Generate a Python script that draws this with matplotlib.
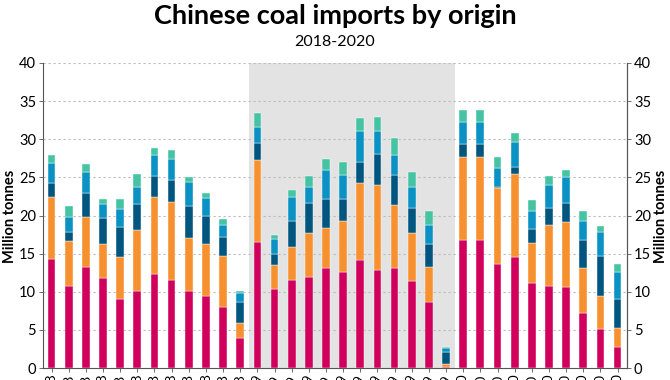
import matplotlib
matplotlib.use("Agg")
import matplotlib.pyplot as plt
import numpy as np

plt.rcParams["font.family"] = ["Lato", "DejaVu Sans"]

MONTHS = ["Jan", "Feb", "Mar", "Apr", "May", "Jun",
          "Jul", "Aug", "Sep", "Oct", "Nov", "Dec"]
LABELS = ([f"{m}-18" for m in MONTHS] + [f"{m}-19" for m in MONTHS]
          + [f"{m}-20" for m in MONTHS[:10]])

# million tonnes, stacked bottom to top
pink = [14.3, 10.8, 13.3, 11.8, 9.0, 10.15, 12.3, 11.6, 10.1, 9.45, 8.0, 3.9,
        16.5, 10.3, 11.6, 12.0, 13.1, 12.6, 14.1, 12.9, 13.15, 11.4, 8.7, 0.1,
        16.8, 16.8, 13.6, 14.6, 11.1, 10.75, 10.6, 7.2, 5.1, 2.75]
orange = [8.1, 5.9, 6.5, 4.5, 5.6, 7.9, 10.1, 10.2, 7.0, 6.85, 6.7, 2.0,
          10.8, 3.2, 4.3, 5.75, 5.3, 6.7, 10.2, 11.1, 8.25, 6.35, 4.5, 0.4,
          10.9, 10.9, 9.95, 10.9, 5.3, 7.95, 8.6, 5.95, 4.4, 2.55]
dark_blue = [1.9, 1.2, 3.15, 3.4, 3.9, 3.45, 2.8, 2.8, 4.2, 3.7, 2.5, 2.8,
             2.2, 1.5, 3.4, 3.85, 3.7, 2.8, 2.7, 4.1, 3.9, 3.25, 3.0, 1.65,
             1.7, 1.7, 0.15, 0.9, 1.8, 2.3, 2.5, 3.65, 5.2, 3.75]
light_blue = [2.6, 1.9, 2.75, 1.8, 2.4, 2.2, 2.7, 2.8, 3.05, 2.25, 1.5, 1.2,
              2.15, 1.9, 3.1, 2.2, 3.9, 3.2, 4.1, 3.0, 2.6, 2.7, 2.55, 0.5,
              2.8, 2.8, 2.5, 3.3, 2.4, 2.95, 3.3, 2.5, 3.1, 3.55]
teal = [1.0, 1.4, 1.0, 0.7, 1.3, 1.7, 1.0, 1.2, 0.75, 0.75, 0.9, 0.25,
        1.75, 0.6, 1.0, 1.4, 1.4, 1.7, 1.7, 1.8, 2.3, 2.0, 1.85, 0.1,
        1.7, 1.7, 1.5, 1.1, 1.4, 1.25, 1.0, 1.3, 0.8, 1.1]

series = [pink, orange, dark_blue, light_blue, teal]
colors = ["#d0005c", "#f7902f", "#00567f", "#0a92c4", "#45c3a3"]

fig = plt.figure(figsize=(6.7, 3.8), dpi=100)
ax = fig.add_axes([43 / 670, 12 / 380, 584 / 670, 305 / 380])

x = np.arange(len(LABELS))
ax.axvspan(11.5, 23.5, color="#e3e3e3", zorder=0, lw=0)
bottom = np.zeros(len(x))
for vals, col in zip(series, colors):
    ax.bar(x, vals, 0.45, bottom=bottom, color=col, edgecolor="#ffffff",
           linewidth=0.3, zorder=3)
    bottom += np.array(vals)

ax.set_xlim(-0.5, 33.55)
ax.set_ylim(0, 40)
ax.set_yticks(range(0, 41, 5))
ax.set_xticks(x)
# labels run off the bottom edge, only the year's last digit shows
ax.set_xticklabels(LABELS, rotation=90, fontsize=10)
ax.tick_params(axis="x", length=3, width=0.6, color="#555555", pad=1)
ax.tick_params(axis="y", length=3, width=0.6, color="#555555", labelsize=10.5, pad=2)
for y in range(5, 41, 5):
    ax.axhline(y, color="#bbbbbb", ls=(0, (2, 2.5)), lw=0.8, zorder=1)

ax.spines["top"].set_visible(False)
for side in ["left", "right", "bottom"]:
    ax.spines[side].set_color("#555555")
    ax.spines[side].set_linewidth(0.8)

ax2 = ax.twinx()
ax2.set_ylim(0, 40)
ax2.set_yticks(range(0, 41, 5))
ax2.tick_params(axis="y", length=3, width=0.6, color="#555555", labelsize=10.5, pad=2)
for side in ["top", "left", "bottom"]:
    ax2.spines[side].set_visible(False)
ax2.spines["right"].set_color("#555555")
ax2.spines["right"].set_linewidth(0.8)

ylab_y = 1 - 216 / 380
fig.text(10 / 670, ylab_y, "Million tonnes", rotation=90, ha="center",
         va="center", fontsize=10.5, fontweight="bold")
fig.text(661 / 670, ylab_y, "Million tonnes", rotation=90, ha="center",
         va="center", fontsize=10.5, fontweight="bold")

fig.text(0.5, 1 - 16 / 380, "Chinese coal imports by origin", ha="center",
         va="center", fontsize=19.5, fontweight="bold")
fig.text(0.5, 1 - 42 / 380, "2018-2020", ha="center", va="center", fontsize=11.5)

fig.savefig("out.png", dpi=100)
